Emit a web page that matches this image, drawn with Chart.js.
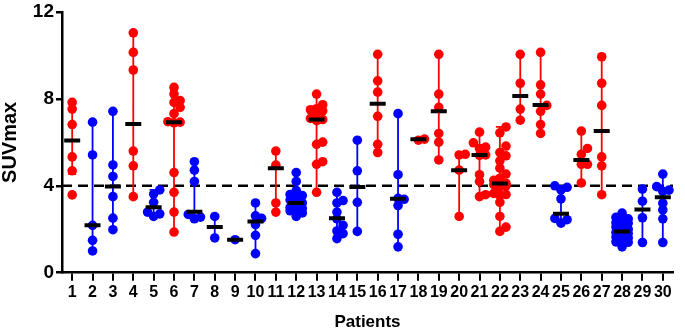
<!DOCTYPE html>
<html><head><meta charset="utf-8">
<script src="https://cdn.jsdelivr.net/npm/chart.js@4.4.1/dist/chart.umd.min.js"></script>
<style>html,body{margin:0;padding:0;background:#fff;}canvas{display:block;}</style>
</head><body>
<canvas id="c" width="685" height="328"></canvas>
<script>
// ---- data ----
const patients = ['1','2','3','4','5','6','7','8','9','10','11','12','13','14','15','16','17','18','19','20','21','22','23','24','25','26','27','28','29','30'];
// R = red group, B = blue group
const cohort = ['R','B','B','R','B','R','B','B','B','B','R','B','R','B','B','R','B','R','R','R','R','R','R','R','B','R','R','B','B','B'];
const suv = [
  [7.84,7.53,6.82,5.33,4.69,3.58],
  [6.93,5.42,2.18,1.49,1.00],
  [7.43,4.96,4.43,3.50,2.51,1.98],
  [11.04,10.14,9.33,5.60,4.92,3.50],
  [3.81,3.62,3.24,2.79,2.71,2.59],
  [8.53,8.22,7.92,7.84,7.61,7.32,6.95,6.93,6.90,4.61,3.70,2.79,1.87],
  [5.11,4.72,4.20,2.68,2.56,2.48],
  [2.59,1.60],
  [1.52],
  [3.21,2.62,2.50,2.21,1.72,0.88],
  [5.60,4.95,3.21,2.79],
  [4.61,4.20,3.78,3.60,3.55,3.50,3.35,3.21,3.10,3.00,2.95,2.90,2.85,2.75,2.59],
  [8.22,7.73,7.55,7.50,7.45,7.35,7.10,7.05,7.00,6.01,5.91,5.11,4.99,3.70],
  [3.70,3.32,3.21,2.79,2.48,2.18,1.92,1.80,1.57],
  [6.10,4.69,3.24,1.90],
  [10.05,8.83,8.31,7.20,5.91,5.53],
  [7.32,4.51,3.42,3.38,3.09,1.77,1.19],
  [6.15,6.10],
  [10.05,8.22,7.61,6.41,6.01,5.19],
  [5.45,5.42,4.72,2.59],
  [6.47,5.98,5.78,5.72,5.42,5.40,4.51,4.20,3.59,3.50],
  [6.71,6.44,5.83,5.53,5.38,5.15,4.81,4.54,4.35,4.25,4.12,4.10,4.05,4.00,3.95,3.65,3.60,3.55,3.24,2.59,2.10,1.90],
  [10.05,8.72,7.53,7.02],
  [10.14,8.65,8.22,7.70,7.43,6.82,6.41],
  [4.00,3.93,3.81,3.40,2.50,2.44,2.28],
  [6.52,5.72,5.45,4.99,4.99,4.13],
  [9.94,8.72,7.70,5.33,4.92,3.59],
  [2.74,2.55,2.48,2.40,2.30,2.28,2.25,2.10,2.00,1.90,1.85,1.80,1.70,1.64,1.60,1.55,1.42,1.40,1.19],
  [3.85,3.29,2.53,1.39],
  [4.54,3.96,3.80,3.75,3.20,2.89,2.48,1.39]
];
const medians = [6.09,2.18,3.97,6.85,3.01,6.93,2.80,2.10,1.52,2.36,4.81,3.21,7.05,2.51,3.95,7.78,3.40,6.14,7.43,4.72,5.42,4.11,8.13,7.72,2.71,5.19,6.52,1.90,2.91,3.47];
const whiskerLow  = [4.54,1.00,1.98,3.50,2.59,1.87,2.48,1.60,1.52,0.88,2.79,2.59,3.70,1.57,1.90,5.53,1.19,6.10,5.19,2.59,3.50,1.90,7.02,6.41,2.28,4.13,3.59,1.19,1.39,1.39];
const whiskerHigh = [7.60,6.93,7.43,11.04,3.81,8.40,5.11,2.59,1.52,3.21,5.60,4.55,8.22,3.70,6.10,10.05,7.32,6.15,10.05,5.45,6.47,6.71,10.05,10.14,4.00,6.52,9.94,2.74,3.81,4.54];
const yTicks = [0,4,8,12];
const cutoff = 4;

// ---- styles ----
const COLORS = {R:'#ff0000', B:'#0000ff'};
const FONT = "'Liberation Sans', Arial, sans-serif";
const STEP = 0.3;   // horizontal slot step (category units)
const GAP = 0.30;   // vertical distance below which points cannot share a slot

// place points in three columns (centre, right, left); overlap when crowded
function swarm(vals){
  const sorted = vals.slice().sort((a,b)=>a-b);
  const placed = [];
  const slots = [0,1,-1];
  sorted.forEach(v=>{
    let best = null, bestD = -1;
    for(const s of slots){
      const ds = placed.filter(q=>q.s===s).map(q=>Math.abs(q.v-v));
      const d = ds.length ? Math.min(...ds) : Infinity;
      if(d >= GAP){ best = s; break; }
      if(d > bestD){ bestD = d; best = s; }
    }
    placed.push({v, s:best});
  });
  return placed;
}

const pts = {R:[],B:[]}, wh = {R:[],B:[]}, caps = {R:[],B:[]};
patients.forEach((p,i)=>{
  const x = i+1, c = cohort[i];
  swarm(suv[i]).forEach(q=>pts[c].push({x:x+q.s*STEP, y:q.v}));
  if(whiskerHigh[i]-whiskerLow[i] > 0.1){
    wh[c].push({x,y:whiskerLow[i]},{x,y:whiskerHigh[i]},{x,y:null});
    caps[c].push({x,y:whiskerLow[i]},{x,y:whiskerHigh[i]});
  }
});
const med = medians.map((m,i)=>({x:i+1,y:m}));

const datasets = [
  {type:'line', data:[{x:0.5,y:cutoff},{x:30.5,y:cutoff}], borderColor:'#000', borderWidth:2.4, borderDash:[10,6], pointRadius:0, order:6},
];
['R','B'].forEach(c=>{
  datasets.push({type:'line', data:wh[c], borderColor:COLORS[c], borderWidth:1.8, pointRadius:0, spanGaps:false, order:5});
  datasets.push({type:'scatter', data:caps[c], pointStyle:'line', pointRadius:4, pointBorderColor:COLORS[c], pointBorderWidth:1.8, order:4});
  datasets.push({type:'scatter', data:pts[c], pointRadius:4.8, pointBackgroundColor:COLORS[c], pointBorderColor:COLORS[c], pointBorderWidth:0, order:2, clip:false});
});
datasets.push({type:'scatter', data:med, pointStyle:'line', pointRadius:8, pointBorderColor:'#000', pointBorderWidth:4, order:1});

new Chart(document.getElementById('c'), {
  type:'scatter',
  data:{datasets},
  options:{
    responsive:false, animation:false, events:[], devicePixelRatio:1,
    layout:{padding:{top:10,right:5,left:0,bottom:0}},
    plugins:{legend:{display:false}, tooltip:{enabled:false}},
    scales:{
      x:{type:'linear', min:0.5, max:30.5,
        afterBuildTicks:s=>{ s.ticks = patients.map((p,i)=>({value:i+1})); },
        afterFit:s=>{ s.height = 55.3; },
        ticks:{callback:(v)=>patients[v-1], autoSkip:false, maxRotation:0, color:'#000', padding:4,
          font:{family:FONT, weight:'bold', size:16, lineHeight:1}},
        grid:{drawOnChartArea:false, drawTicks:true, tickLength:8, lineWidth:2, tickWidth:2, tickColor:'#000', color:'#000'},
        border:{display:true, color:'#000', width:2.5},
        title:{display:true, text:'Patients', color:'#000', padding:0, font:{family:FONT, weight:'bold', size:17, lineHeight:0.7}}
      },
      y:{type:'linear', min:0, max:12,
        afterBuildTicks:s=>{ s.ticks = yTicks.map(v=>({value:v})); },
        afterFit:s=>{ s.width = 62; },
        ticks:{color:'#000', padding:2, font:{family:FONT, weight:'bold', size:19, lineHeight:1}},
        grid:{drawOnChartArea:false, drawTicks:true, tickLength:6, lineWidth:2.5, tickWidth:2.5, tickColor:'#000', color:'#000'},
        border:{display:true, color:'#000', width:2.5},
        title:{display:true, text:'SUVmax', color:'#000', padding:0, font:{family:FONT, weight:'bold', size:20, lineHeight:1}}
      }
    }
  }
});
</script>
</body></html>
